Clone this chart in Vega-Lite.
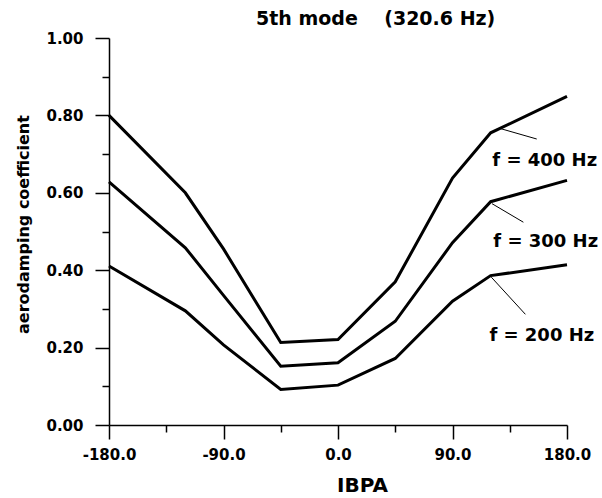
{
  "$schema": "https://vega.github.io/schema/vega-lite/v6.json",
  "width": 458,
  "height": 387,
  "autosize": "none",
  "padding": {"left": 109, "top": 38, "right": 35, "bottom": 73},
  "background": "white",
  "title": {
    "text": "5th mode\u00a0\u00a0\u00a0\u00a0(320.6 Hz)",
    "anchor": "start",
    "frame": "group",
    "dx": 147,
    "offset": -13,
    "baseline": "alphabetic",
    "font": "DejaVu Sans",
    "fontSize": 19,
    "fontWeight": "bold",
    "color": "black"
  },
  "config": {
    "view": {"stroke": null},
    "font": "DejaVu Sans",
    "axis": {
      "grid": false,
      "domainColor": "black",
      "domainWidth": 1.5,
      "tickColor": "black",
      "tickWidth": 1.5,
      "labelFont": "DejaVu Sans",
      "labelFontWeight": "bold",
      "labelFontSize": 15,
      "labelColor": "black",
      "labelOverlap": false,
      "labelFlush": false,
      "titleFont": "DejaVu Sans",
      "titleFontWeight": "bold",
      "titleColor": "black"
    }
  },
  "datasets": {
    "curves": [
      {"f": "400", "ibpa": -180, "c": 0.800},
      {"f": "400", "ibpa": -120, "c": 0.600},
      {"f": "400", "ibpa": -90, "c": 0.455},
      {"f": "400", "ibpa": -45, "c": 0.213},
      {"f": "400", "ibpa": 0, "c": 0.221},
      {"f": "400", "ibpa": 45, "c": 0.370},
      {"f": "400", "ibpa": 90, "c": 0.638},
      {"f": "400", "ibpa": 120, "c": 0.755},
      {"f": "400", "ibpa": 180, "c": 0.849},
      {"f": "300", "ibpa": -180, "c": 0.628},
      {"f": "300", "ibpa": -120, "c": 0.458},
      {"f": "300", "ibpa": -90, "c": 0.335},
      {"f": "300", "ibpa": -45, "c": 0.152},
      {"f": "300", "ibpa": 0, "c": 0.161},
      {"f": "300", "ibpa": 45, "c": 0.268},
      {"f": "300", "ibpa": 90, "c": 0.471},
      {"f": "300", "ibpa": 120, "c": 0.577},
      {"f": "300", "ibpa": 180, "c": 0.632},
      {"f": "200", "ibpa": -180, "c": 0.411},
      {"f": "200", "ibpa": -120, "c": 0.295},
      {"f": "200", "ibpa": -90, "c": 0.207},
      {"f": "200", "ibpa": -45, "c": 0.092},
      {"f": "200", "ibpa": 0, "c": 0.103},
      {"f": "200", "ibpa": 45, "c": 0.172},
      {"f": "200", "ibpa": 90, "c": 0.320},
      {"f": "200", "ibpa": 120, "c": 0.386},
      {"f": "200", "ibpa": 180, "c": 0.414}
    ],
    "leaders": [
      {"f": "400", "x1": 127.6, "y1": 0.766, "x2": 156.2, "y2": 0.739},
      {"f": "300", "x1": 121, "y1": 0.572, "x2": 145.7, "y2": 0.524},
      {"f": "200", "x1": 120.5, "y1": 0.382, "x2": 147.3, "y2": 0.286}
    ],
    "labels": [
      {"label": "f = 400 Hz", "x": 121.3, "y": 0.669},
      {"label": "f = 300 Hz", "x": 122.1, "y": 0.461},
      {"label": "f = 200 Hz", "x": 119, "y": 0.216}
    ]
  },
  "layer": [
    {
      "data": {"name": "curves"},
      "mark": {"type": "line", "stroke": "black", "strokeWidth": 3, "strokeJoin": "miter"},
      "encoding": {
        "x": {
          "field": "ibpa", "type": "quantitative",
          "scale": {"domain": [-180, 180], "nice": false, "zero": false},
          "axis": {
            "orient": "bottom",
            "values": [-180, -90, 0, 90, 180],
            "labelExpr": "datum.value < 0 ? '-' + format(-datum.value, '.1f') : format(datum.value, '.1f')",
            "tickSize": 14,
            "labelPadding": 8,
            "title": "IBPA",
            "titleFontSize": 20,
            "titleX": 253,
            "titleY": 66,
            "titleBaseline": "alphabetic",
            "titleAlign": "center",
            "titleAngle": 0
          }
        },
        "y": {
          "field": "c", "type": "quantitative",
          "scale": {"domain": [0, 1], "nice": false, "zero": false},
          "axis": {
            "orient": "left",
            "values": [0, 0.2, 0.4, 0.6, 0.8, 1.0],
            "format": ".2f",
            "tickSize": 14,
            "labelPadding": 12,
            "title": "aerodamping coefficient",
            "titleFontSize": 16,
            "titleAngle": -90,
            "titleX": -81,
            "titleY": 186,
            "titleBaseline": "alphabetic",
            "titleAlign": "center"
          }
        },
        "detail": {"field": "f", "type": "nominal"}
      }
    },
    {
      "data": {"name": "leaders"},
      "mark": {"type": "rule", "stroke": "black", "strokeWidth": 1},
      "encoding": {
        "x": {
          "field": "x1", "type": "quantitative",
          "axis": {
            "orient": "bottom",
            "values": [-135, -45, 45, 135],
            "tickSize": 7,
            "labels": false,
            "domain": false,
            "title": null
          }
        },
        "y": {
          "field": "y1", "type": "quantitative",
          "axis": {
            "orient": "left",
            "values": [0.1, 0.3, 0.5, 0.7, 0.9],
            "tickSize": 7,
            "labels": false,
            "domain": false,
            "title": null
          }
        },
        "x2": {"field": "x2"},
        "y2": {"field": "y2"}
      }
    },
    {
      "data": {"name": "labels"},
      "mark": {"type": "text", "align": "left", "baseline": "alphabetic", "font": "DejaVu Sans", "fontSize": 18, "fontWeight": "bold", "color": "black"},
      "encoding": {
        "x": {"field": "x", "type": "quantitative", "axis": null},
        "y": {"field": "y", "type": "quantitative", "axis": null},
        "text": {"field": "label"}
      }
    }
  ],
  "resolve": {"axis": {"x": "independent", "y": "independent"}}
}
